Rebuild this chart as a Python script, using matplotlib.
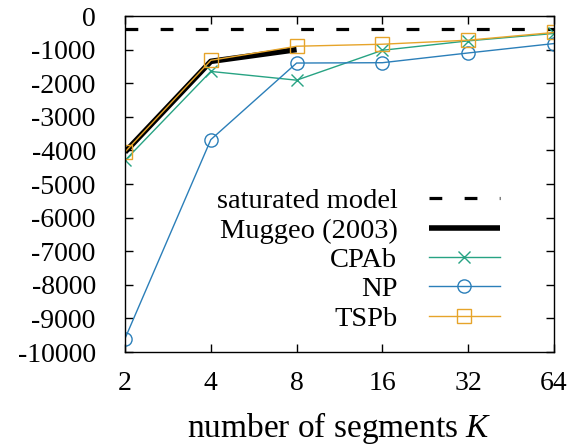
import matplotlib
matplotlib.use("Agg")
import matplotlib.pyplot as plt

plt.rcParams['font.family'] = ['Liberation Serif', 'DejaVu Serif']
plt.rcParams['mathtext.fontset'] = 'custom'
plt.rcParams['mathtext.it'] = 'Liberation Serif:italic'
plt.rcParams['mathtext.rm'] = 'Liberation Serif'

# number of segments K
K = [2, 4, 8, 16, 32, 64]

saturated = -400
muggeo_K = [2, 4, 8]
muggeo = [-4050, -1350, -1000]
cpab = [-4300, -1650, -1910, -1020, -740, -520]
np_vals = [-9600, -3680, -1400, -1390, -1100, -820]
tspb = [-4050, -1320, -900, -840, -720, -490]

green = '#27a383'
blue = '#2b7fb9'
orange = '#e6a42a'

fig = plt.figure(figsize=(5.69, 4.45), dpi=100)
ax = fig.add_axes([125 / 569, 1 - 352 / 445, (554 - 125) / 569, (352 - 16) / 445])

ax.plot([K[0], K[-1]], [saturated, saturated], color='black', lw=2.3,
        dashes=(4, 7), label='saturated model')
ax.plot(muggeo_K, muggeo, color='black', lw=4, solid_capstyle='butt',
        label='Muggeo (2003)')
ax.plot(K, cpab, color=green, lw=1, marker='x', ms=9, mew=1,
        label='CPAb')
ax.plot(K, np_vals, color=blue, lw=1, marker='o', ms=9.5, mew=1,
        mfc='none', label='NP')
ax.plot(K, tspb, color=orange, lw=1, marker='s', ms=9.5, mew=1,
        mfc='none', label='TSPb')

ax.set_xscale('log', base=2)
ax.set_xlim(2, 64)
ax.set_xticks(K)
ax.set_xticklabels([str(k) for k in K])
ax.minorticks_off()
ax.set_ylim(-10000, 0)
ax.set_yticks(range(-10000, 1, 1000))
ax.set_yticklabels([str(v) for v in range(-10000, 1, 1000)])

ax.tick_params(direction='in', length=6, width=1, top=True, right=True,
               labelsize=20)
ax.tick_params(axis='y', pad=21)
ax.tick_params(axis='x', pad=14)
for s in ax.spines.values():
    s.set_linewidth(1)

ax.set_xlabel('number of segments $K$', fontsize=24, labelpad=10)

leg = ax.legend(loc='center right', bbox_to_anchor=(0.874, 0.274),
                markerfirst=False, frameon=False, fontsize=20.5,
                handlelength=2.5, handletextpad=1.1, labelspacing=0.12,
                borderpad=0, borderaxespad=0)
for t in leg.get_texts():
    t.set_ha('right')

fig.savefig('out.png', dpi=100)
